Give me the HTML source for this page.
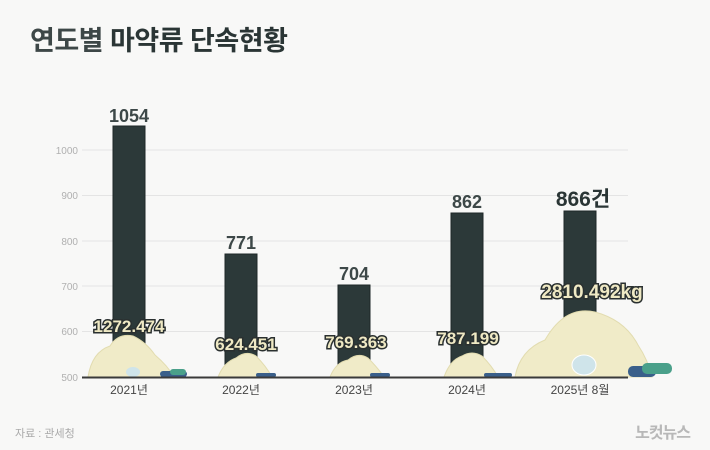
<!DOCTYPE html>
<html><head><meta charset="utf-8"><style>
html,body{margin:0;padding:0;background:#f8f8f7;}
svg{display:block;font-family:"Liberation Sans","Noto Sans CJK KR",sans-serif;}
</style></head><body>
<svg width="710" height="450" viewBox="0 0 710 450">
<rect width="710" height="450" fill="#f8f8f7"/>
<text x="30" y="50" font-size="27" font-weight="bold" fill="#3d4747" letter-spacing="-0.5">연도별 <tspan fill="#2a3535">마약류 단속현황</tspan></text>
<g stroke="#e4e4e4" stroke-width="1">
<line x1="82" y1="150" x2="628" y2="150"/>
<line x1="82" y1="195.5" x2="628" y2="195.5"/>
<line x1="82" y1="241" x2="628" y2="241"/>
<line x1="82" y1="286" x2="628" y2="286"/>
<line x1="82" y1="331.5" x2="628" y2="331.5"/>
</g>
<g font-size="10" fill="#b0b0b0" text-anchor="end">
<text x="78" y="154">1000</text><text x="78" y="199">900</text><text x="78" y="245">800</text>
<text x="78" y="290">700</text><text x="78" y="335">600</text><text x="78" y="381">500</text>
</g>
<g fill="#2c3939" stroke="#1e2828" stroke-width="1">
<rect x="113" y="126" width="32" height="251"/>
<rect x="225" y="254" width="32" height="123"/>
<rect x="338" y="285" width="32" height="92"/>
<rect x="451" y="213" width="32" height="164"/>
<rect x="564" y="211" width="32" height="166"/>
</g>
<g font-size="18" font-weight="bold" fill="#3d4848" text-anchor="middle">
<text x="129" y="122">1054</text><text x="241" y="249">771</text><text x="354" y="280">704</text>
<text x="467" y="208">862</text><text x="583" y="206" font-size="21" fill="#2a3535">866건</text>
</g>
<g fill="#f0ebc8" stroke="#e2dcb0" stroke-width="1">
<path d="M88 377 Q92 352 110 346 Q118 333 133 336 Q146 342 155 355 Q168 366 174 377Z"/>
<path d="M218 377 Q224 362 236 358 Q246 350 256 356 Q266 366 272 377Z"/>
<path d="M330 377 Q336 362 348 360 Q358 352 368 358 Q378 368 384 377Z"/>
<path d="M444 377 Q450 360 462 356 Q472 350 482 356 Q492 366 498 377Z"/>
<path d="M515 377 Q520 350 545 340 Q565 305 595 312 Q625 320 638 345 Q648 360 652 377Z"/>
</g>
<g>
<rect x="160" y="371" width="27" height="6" rx="3" fill="#3a5f8a"/><rect x="170" y="369" width="16" height="6" rx="3" fill="#4aa08a"/>
<ellipse cx="133" cy="372" rx="7" ry="5" fill="#cfe4ea"/>
<rect x="256" y="373" width="20" height="4" rx="2" fill="#3a5f8a"/><rect x="370" y="373" width="20" height="4" rx="2" fill="#3a5f8a"/>
<rect x="484" y="373" width="28" height="4" rx="2" fill="#3a5f8a"/>
<ellipse cx="584" cy="365" rx="12" ry="10" fill="#cfe4ea" stroke="#fff"/>
<rect x="628" y="366" width="28" height="11" rx="5" fill="#3a5f8a"/><rect x="642" y="363" width="30" height="11" rx="5" fill="#4aa08a"/>
</g>
<line x1="82" y1="377.5" x2="628" y2="377.5" stroke="#3a3a3a" stroke-width="2"/>
<g font-size="17" font-weight="bold" fill="#efe9c4" stroke="#2a3030" stroke-width="3" paint-order="stroke" text-anchor="middle">
<text x="129" y="332">1272.474</text><text x="246" y="350">624.451</text><text x="356" y="348">769.363</text>
<text x="468" y="344">787.199</text><text x="592" y="298" font-size="19">2810.492kg</text>
</g>
<g font-size="12" fill="#444" text-anchor="middle">
<text x="129" y="394">2021년</text><text x="241" y="394">2022년</text><text x="354" y="394">2023년</text>
<text x="467" y="394">2024년</text><text x="580" y="394">2025년 8월</text>
</g>
<text x="15" y="437" font-size="11" fill="#aaa">자료 : 관세청</text>
<text x="690" y="438" font-size="16" font-weight="bold" fill="#b8b8b8" text-anchor="end" letter-spacing="-1">노컷뉴스</text>
</svg>
</body></html>
